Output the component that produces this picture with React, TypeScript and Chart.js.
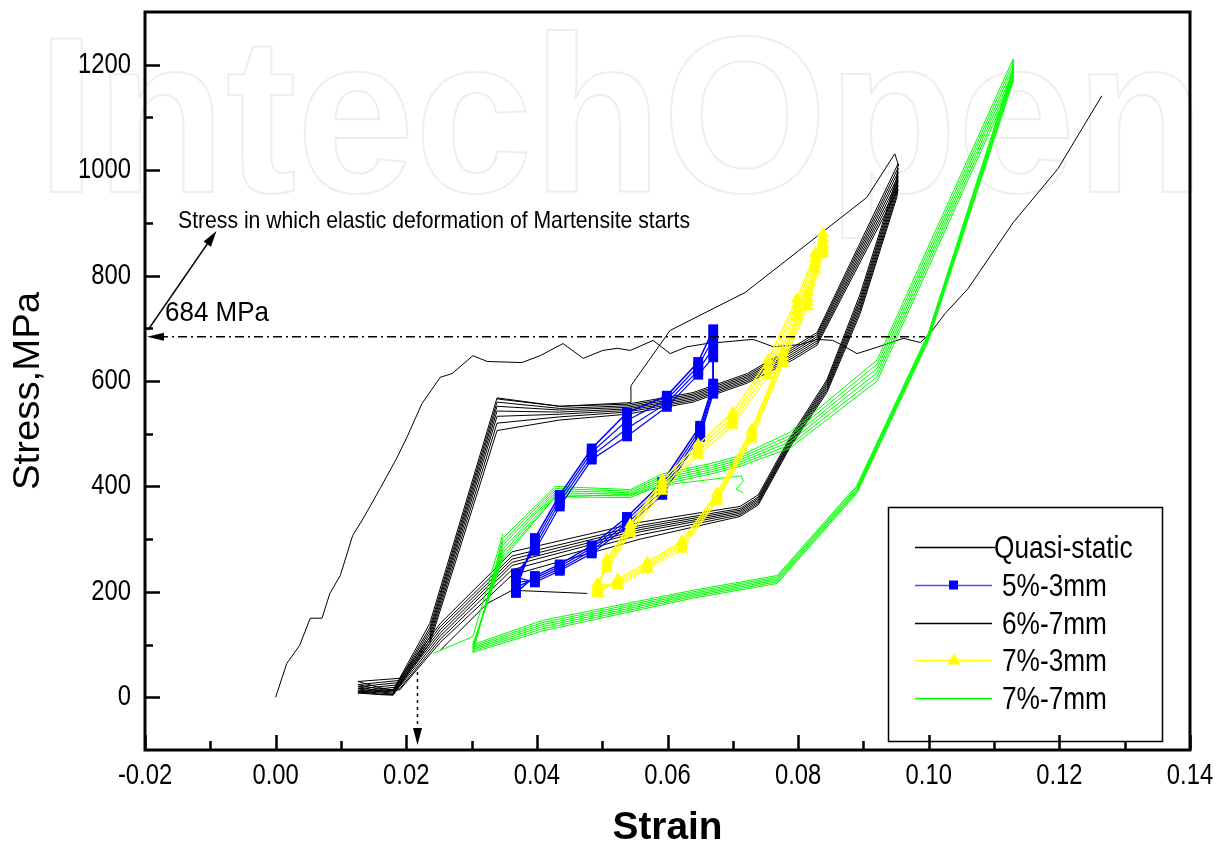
import React, { useEffect, useRef } from "react";
import { Chart, registerables } from "chart.js";
Chart.register(...registerables);

// ---------- axis ticks ----------
const xTickValues = [-0.02, 0, 0.02, 0.04, 0.06, 0.08, 0.1, 0.12, 0.14];
const xTickLabels = ["-0.02", "0.00", "0.02", "0.04", "0.06", "0.08", "0.10", "0.12", "0.14"];
const xMinorValues = [-0.01, 0.01, 0.03, 0.05, 0.07, 0.09, 0.11, 0.13];
const yTickValues = [0, 200, 400, 600, 800, 1000, 1200];
const yTickLabels = ["0", "200", "400", "600", "800", "1000", "1200"];
const yMinorValues = [100, 300, 500, 700, 900, 1100];

// ---------- Quasi-static ----------
const quasiStrain = [0, 0.0017, 0.0037, 0.0053, 0.0071, 0.0083, 0.0099, 0.0118, 0.0134, 0.016, 0.0186, 0.0201, 0.0224, 0.0252, 0.027, 0.0302, 0.0324, 0.0377, 0.0405, 0.044, 0.0471, 0.0501, 0.0523, 0.0543, 0.0578, 0.0604, 0.063, 0.066, 0.0731, 0.0762, 0.0803, 0.0829, 0.0853, 0.0869, 0.089, 0.0921, 0.0961, 0.0987, 0.1002, 0.1025, 0.106, 0.1129, 0.1198, 0.1265];
const quasiStress = [0, 64, 99, 150, 150, 197, 231, 307, 339, 396, 455, 493, 557, 607, 614, 648, 637, 635, 648, 671, 643, 658, 662, 658, 677, 652, 665, 671, 679, 665, 669, 679, 677, 667, 652, 664, 681, 673, 690, 728, 775, 900, 1003, 1141];

// ---------- 6%-7mm (black loops) ----------
const blackStrain = [0.0126, 0.016, 0.018, 0.0236, 0.0339, 0.0435, 0.0538, 0.0639, 0.0722, 0.0792, 0.0829, 0.0953, 0.0951, 0.0895, 0.0844, 0.0788, 0.0739, 0.0711, 0.0558, 0.0362, 0.0252, 0.019, 0.0126];
const blackCycle1 = [30, 18, 14, 140, 568, 552, 556, 578, 614, 664, 692, 1012, 985, 765, 602, 494, 384, 362, 332, 276, 140, 36, 30];
const blackCycle2 = [24, 15, 12, 132, 560, 548, 553, 575, 611, 660, 688, 1004, 978, 758, 598, 490, 380, 358, 326, 268, 134, 32, 24];
const blackCycle3 = [20, 12, 10, 126, 552, 545, 550, 572, 608, 656, 684, 996, 972, 752, 594, 487, 377, 355, 322, 262, 128, 28, 20];
const blackCycle4 = [16, 10, 8, 120, 543, 541, 547, 569, 605, 652, 680, 988, 966, 746, 590, 484, 374, 352, 318, 256, 122, 24, 16];
const blackCycle5 = [12, 8, 6, 114, 533, 537, 544, 566, 602, 648, 676, 980, 960, 740, 586, 481, 371, 349, 314, 250, 116, 20, 12];
const blackCycle6 = [10, 6, 5, 108, 520, 532, 541, 563, 599, 644, 672, 972, 954, 734, 582, 478, 368, 346, 308, 242, 110, 16, 10];
const blackCycle7 = [8, 5, 4, 102, 506, 526, 537, 560, 596, 640, 668, 964, 948, 728, 578, 475, 365, 343, 300, 232, 104, 14, 8];
const blackFirstStrain = [0.0339, 0.0435, 0.0544, 0.0544, 0.0604, 0.0719, 0.0905, 0.0948, 0.0954];
const blackFirstStress = [566, 552, 559, 591, 696, 768, 948, 1031, 1008];
const blackExtraStrain = [0.0252, 0.0324, 0.0362, 0.0477];
const blackExtraStress = [89, 178, 203, 197];

// ---------- 5%-3mm (blue) ----------
const blueStrain = [0.0368, 0.0397, 0.0435, 0.0484, 0.0538, 0.0599, 0.0647, 0.067, 0.067, 0.065, 0.0592, 0.0538, 0.0484, 0.0435, 0.0397, 0.0368];
const blueCycle1 = [205, 302, 384, 472, 540, 572, 636, 698, 595, 515, 408, 342, 288, 252, 230, 198];
const blueCycle2 = [215, 294, 377, 465, 525, 565, 628, 680, 588, 508, 400, 336, 283, 248, 226, 208];
const blueCycle3 = [225, 286, 370, 458, 510, 558, 620, 662, 582, 501, 392, 330, 278, 244, 222, 218];
const blueCycle4 = [235, 278, 362, 451, 495, 551, 612, 645, 576, 494, 384, 324, 273, 240, 218, 228];

// ---------- 7%-3mm (yellow) ----------
const yellowStrain = [0.0492, 0.0507, 0.0543, 0.0592, 0.0647, 0.07, 0.0754, 0.0798, 0.0826, 0.0838, 0.0838, 0.0815, 0.0777, 0.0729, 0.0676, 0.0622, 0.0569, 0.0524, 0.0494];
const yellowCycle1 = [199, 262, 328, 412, 480, 540, 640, 755, 842, 880, 870, 768, 654, 508, 388, 296, 256, 224, 197];
const yellowCycle2 = [204, 256, 322, 405, 473, 532, 630, 744, 832, 868, 860, 759, 647, 502, 382, 291, 251, 220, 203];
const yellowCycle3 = [209, 250, 316, 398, 466, 524, 620, 733, 822, 856, 850, 750, 640, 496, 377, 286, 247, 216, 209];
const yellowCycle4 = [214, 244, 310, 391, 459, 516, 610, 722, 812, 844, 840, 741, 633, 490, 372, 281, 243, 212, 214];

// ---------- 7%-7mm (green) ----------
const greenStrain = [0.0302, 0.0348, 0.0428, 0.0543, 0.0593, 0.0668, 0.0711, 0.0788, 0.0921, 0.1129, 0.1129, 0.0999, 0.089, 0.0768, 0.0639, 0.0409, 0.0302];
const greenCycle1 = [84, 302, 400, 394, 424, 444, 458, 503, 640, 1210, 1192, 690, 402, 231, 203, 146, 100];
const greenCycle2 = [87, 295, 396, 391, 420, 440, 454, 497, 632, 1202, 1187, 687, 399, 228, 200, 142, 97];
const greenCycle3 = [90, 288, 392, 388, 416, 436, 450, 491, 624, 1194, 1182, 684, 396, 225, 197, 138, 94];
const greenCycle4 = [93, 281, 388, 385, 412, 432, 446, 485, 616, 1186, 1177, 681, 393, 222, 194, 134, 91];
const greenCycle5 = [96, 274, 384, 382, 408, 428, 442, 479, 608, 1178, 1172, 678, 390, 219, 191, 130, 88];
const greenCycle6 = [99, 268, 380, 379, 404, 424, 438, 473, 600, 1170, 1167, 675, 387, 216, 188, 126, 85];
const greenLeadStrain = [0.0241, 0.0302, 0.0348];
const greenLeadStress = [83, 115, 310];
const greenHookStrain = [0.0302, 0.0348, 0.0428, 0.0543, 0.061, 0.0713, 0.0716, 0.0705, 0.0716];
const greenHookStress = [100, 262, 380, 385, 405, 420, 410, 395, 388];

// ---------- annotations ----------
const martensiteStress = 684;
const dashEndStrain = 0.0994;
const dottedStrain = 0.0216;
const legendNames = ["Quasi-static", "5%-3mm", "6%-7mm", "7%-3mm", "7%-7mm"];

const FONT = "'Liberation Sans', Arial, Helvetica, sans-serif";

function pts(xs: number[], ys: number[]) {
  return xs.map((x, i) => ({ x, y: ys[i] }));
}

function drawText(ctx: CanvasRenderingContext2D, s: string, x: number, y: number, size: number, o: any = {}) {
  ctx.save();
  ctx.font = `${o.bold ? "bold " : ""}${size}px ${FONT}`;
  const w = ctx.measureText(s).width;
  const sx = o.width ? o.width / w : o.sx ?? 1;
  ctx.translate(x, y);
  if (o.rot) ctx.rotate(o.rot);
  ctx.scale(sx, 1);
  ctx.textAlign = o.align || "left";
  ctx.textBaseline = "middle";
  ctx.fillStyle = o.color || "#000";
  ctx.fillText(s, 0, 0);
  ctx.restore();
}

function arrowHead(ctx: CanvasRenderingContext2D, tx: number, ty: number, ang: number, len: number, hw: number) {
  const bx = tx - Math.cos(ang) * len;
  const by = ty - Math.sin(ang) * len;
  const nx = -Math.sin(ang) * hw;
  const ny = Math.cos(ang) * hw;
  ctx.beginPath();
  ctx.moveTo(tx, ty);
  ctx.lineTo(bx + nx, by + ny);
  ctx.lineTo(bx - nx, by - ny);
  ctx.closePath();
  ctx.fill();
}

const decoPlugin = {
  id: "deco",
  beforeDraw(chart: any) {
    const ctx = chart.ctx as CanvasRenderingContext2D;
    ctx.save();
    ctx.fillStyle = "#fff";
    ctx.fillRect(0, 0, chart.width, chart.height);
    // watermark
    ctx.font = `bold 222px ${FONT}`;
    const w = ctx.measureText("IntechOpen").width;
    ctx.translate(37, 192);
    ctx.scale(1168 / w, 1);
    ctx.strokeStyle = "#eeeeee";
    ctx.lineWidth = 2;
    ctx.strokeText("IntechOpen", 0, 0);
    ctx.restore();
  },
  afterDraw(chart: any) {
    const ctx = chart.ctx as CanvasRenderingContext2D;
    const xs = chart.scales.x;
    const ys = chart.scales.y;
    const a = chart.chartArea;
    ctx.save();
    // frame
    ctx.strokeStyle = "#000";
    ctx.lineWidth = 3;
    ctx.strokeRect(a.left, a.top, a.right - a.left, a.bottom - a.top);
    // ticks
    ctx.lineWidth = 2.5;
    ctx.beginPath();
    yTickValues.forEach((v) => {
      const p = Math.round(ys.getPixelForValue(v)) + 0.5;
      ctx.moveTo(a.left, p);
      ctx.lineTo(a.left + 15, p);
    });
    yMinorValues.forEach((v) => {
      const p = Math.round(ys.getPixelForValue(v)) + 0.5;
      ctx.moveTo(a.left, p);
      ctx.lineTo(a.left + 8, p);
    });
    xTickValues.forEach((v) => {
      const p = Math.round(xs.getPixelForValue(v)) + 0.5;
      ctx.moveTo(p, a.bottom);
      ctx.lineTo(p, a.bottom - 15);
    });
    xMinorValues.forEach((v) => {
      const p = Math.round(xs.getPixelForValue(v)) + 0.5;
      ctx.moveTo(p, a.bottom);
      ctx.lineTo(p, a.bottom - 9);
    });
    ctx.stroke();
    // tick labels
    yTickValues.forEach((v, i) => {
      drawText(ctx, yTickLabels[i], a.left - 14, ys.getPixelForValue(v), 29, { align: "right", sx: 0.82 });
    });
    xTickValues.forEach((v, i) => {
      drawText(ctx, xTickLabels[i], xs.getPixelForValue(v), a.bottom + 26, 29, { align: "center", sx: 0.82 });
    });
    // axis titles
    drawText(ctx, "Strain", (a.left + a.right) / 2, 829, 38, { align: "center", bold: true, width: 110 });
    drawText(ctx, "Stress,MPa", 29, 391, 37, { align: "center", rot: -Math.PI / 2, width: 198 });

    // dash-dot 684 MPa line
    const yM = ys.getPixelForValue(martensiteStress);
    ctx.lineWidth = 1.6;
    ctx.setLineDash([9, 4, 2, 4]);
    ctx.beginPath();
    ctx.moveTo(a.left + 14, yM);
    ctx.lineTo(xs.getPixelForValue(dashEndStrain), yM);
    ctx.stroke();
    ctx.setLineDash([]);
    ctx.fillStyle = "#000";
    arrowHead(ctx, a.left + 2, yM, Math.PI, 17, 4);
    drawText(ctx, "684 MPa", 165, 313, 28, { width: 104 });

    // arrow to the text
    ctx.lineWidth = 1.4;
    ctx.beginPath();
    ctx.moveTo(a.left + 3, 330);
    ctx.lineTo(210, 240);
    ctx.stroke();
    arrowHead(ctx, 216.5, 231, Math.atan2(-96, 68), 16, 4.5);
    drawText(ctx, "Stress in which elastic deformation of Martensite starts", 178, 221, 24, { width: 512 });

    // dotted vertical arrow
    const xd = Math.round(xs.getPixelForValue(dottedStrain)) + 0.5;
    ctx.lineWidth = 1.5;
    ctx.setLineDash([3, 4]);
    ctx.beginPath();
    ctx.moveTo(xd, 672);
    ctx.lineTo(xd, 728);
    ctx.stroke();
    ctx.setLineDash([]);
    arrowHead(ctx, xd, 745, Math.PI / 2, 17, 4.5);

    // legend
    const L = 888.5, T = 507.5, R = 1162.5, B = 741.5;
    ctx.lineWidth = 1.5;
    ctx.strokeStyle = "#000";
    ctx.strokeRect(L, T, R - L, B - T);
    const rows = [547, 585, 623, 660, 698];
    const colors = ["#000000", "#4a4aff", "#000000", "#ffff00", "#00ff00"];
    rows.forEach((ry, i) => {
      ctx.strokeStyle = colors[i];
      ctx.lineWidth = 1.3;
      ctx.beginPath();
      ctx.moveTo(915, ry + 0.5);
      ctx.lineTo(i === 0 ? 995 : 992, ry + 0.5);
      ctx.stroke();
      drawText(ctx, legendNames[i], i === 0 ? 994 : 1002, ry + 2, 32, { sx: 0.82 });
    });
    ctx.fillStyle = "#0000ff";
    ctx.fillRect(949, rows[1] - 4.5, 9, 9);
    ctx.fillStyle = "#ffff00";
    ctx.beginPath();
    ctx.moveTo(954, rows[3] - 7);
    ctx.lineTo(960.5, rows[3] + 4.5);
    ctx.lineTo(947.5, rows[3] + 4.5);
    ctx.closePath();
    ctx.fill();
    ctx.restore();
  },
};

function lineDs(data: any[], color: string, width = 1) {
  return { data, borderColor: color, borderWidth: width, pointRadius: 0, fill: false, tension: 0 };
}
function markDs(data: any[], color: string, style: string, radius: number, width = 1.2) {
  return {
    data,
    borderColor: color,
    borderWidth: width,
    pointStyle: style,
    pointRadius: radius,
    pointBackgroundColor: color,
    pointBorderColor: color,
    pointBorderWidth: 0,
    fill: false,
    tension: 0,
  };
}

export default function App() {
  const ref = useRef<HTMLCanvasElement | null>(null);
  useEffect(() => {
    if (!ref.current) return;
    const yellow = "#ffff00";
    const blue = "#0000ff";
    const green = "#00ff00";
    const black = "#000000";
    const datasets: any[] = [
      markDs(pts(yellowStrain, yellowCycle1), yellow, "triangle", 7, 1.5),
      markDs(pts(yellowStrain, yellowCycle2), yellow, "triangle", 7),
      markDs(pts(yellowStrain, yellowCycle3), yellow, "triangle", 7),
      markDs(pts(yellowStrain, yellowCycle4), yellow, "triangle", 7),
      markDs(pts(blueStrain, blueCycle1), blue, "rect", 7, 1.5),
      markDs(pts(blueStrain, blueCycle2), blue, "rect", 7),
      markDs(pts(blueStrain, blueCycle3), blue, "rect", 7),
      markDs(pts(blueStrain, blueCycle4), blue, "rect", 7),
      lineDs(pts(greenStrain, greenCycle1), green),
      lineDs(pts(greenStrain, greenCycle2), green),
      lineDs(pts(greenStrain, greenCycle3), green),
      lineDs(pts(greenStrain, greenCycle4), green),
      lineDs(pts(greenStrain, greenCycle5), green),
      lineDs(pts(greenStrain, greenCycle6), green),
      lineDs(pts(greenLeadStrain, greenLeadStress), green),
      lineDs(pts(greenHookStrain, greenHookStress), green),
      lineDs(pts(blackStrain, blackCycle1), black),
      lineDs(pts(blackStrain, blackCycle2), black),
      lineDs(pts(blackStrain, blackCycle3), black),
      lineDs(pts(blackStrain, blackCycle4), black),
      lineDs(pts(blackStrain, blackCycle5), black),
      lineDs(pts(blackStrain, blackCycle6), black),
      lineDs(pts(blackStrain, blackCycle7), black),
      lineDs(pts(blackFirstStrain, blackFirstStress), black),
      lineDs(pts(blackExtraStrain, blackExtraStress), black),
      lineDs(pts(quasiStrain, quasiStress), black),
    ];
    const chart = new Chart(ref.current, {
      type: "line",
      data: { datasets },
      options: {
        animation: false,
        responsive: false,
        devicePixelRatio: 1,
        layout: { padding: { left: 145, top: 12, right: 35, bottom: 102 } },
        plugins: { legend: { display: false }, tooltip: { enabled: false } },
        scales: {
          x: { type: "linear", min: -0.02, max: 0.14, display: false },
          y: { type: "linear", min: -100, max: 1300, display: false },
        },
      },
      plugins: [decoPlugin],
    } as any);
    return () => chart.destroy();
  }, []);
  return (
    <div style={{ position: "fixed", left: 0, top: 0, width: 1225, height: 852, background: "#fff" }}>
      <canvas ref={ref} width={1225} height={852} />
    </div>
  );
}
